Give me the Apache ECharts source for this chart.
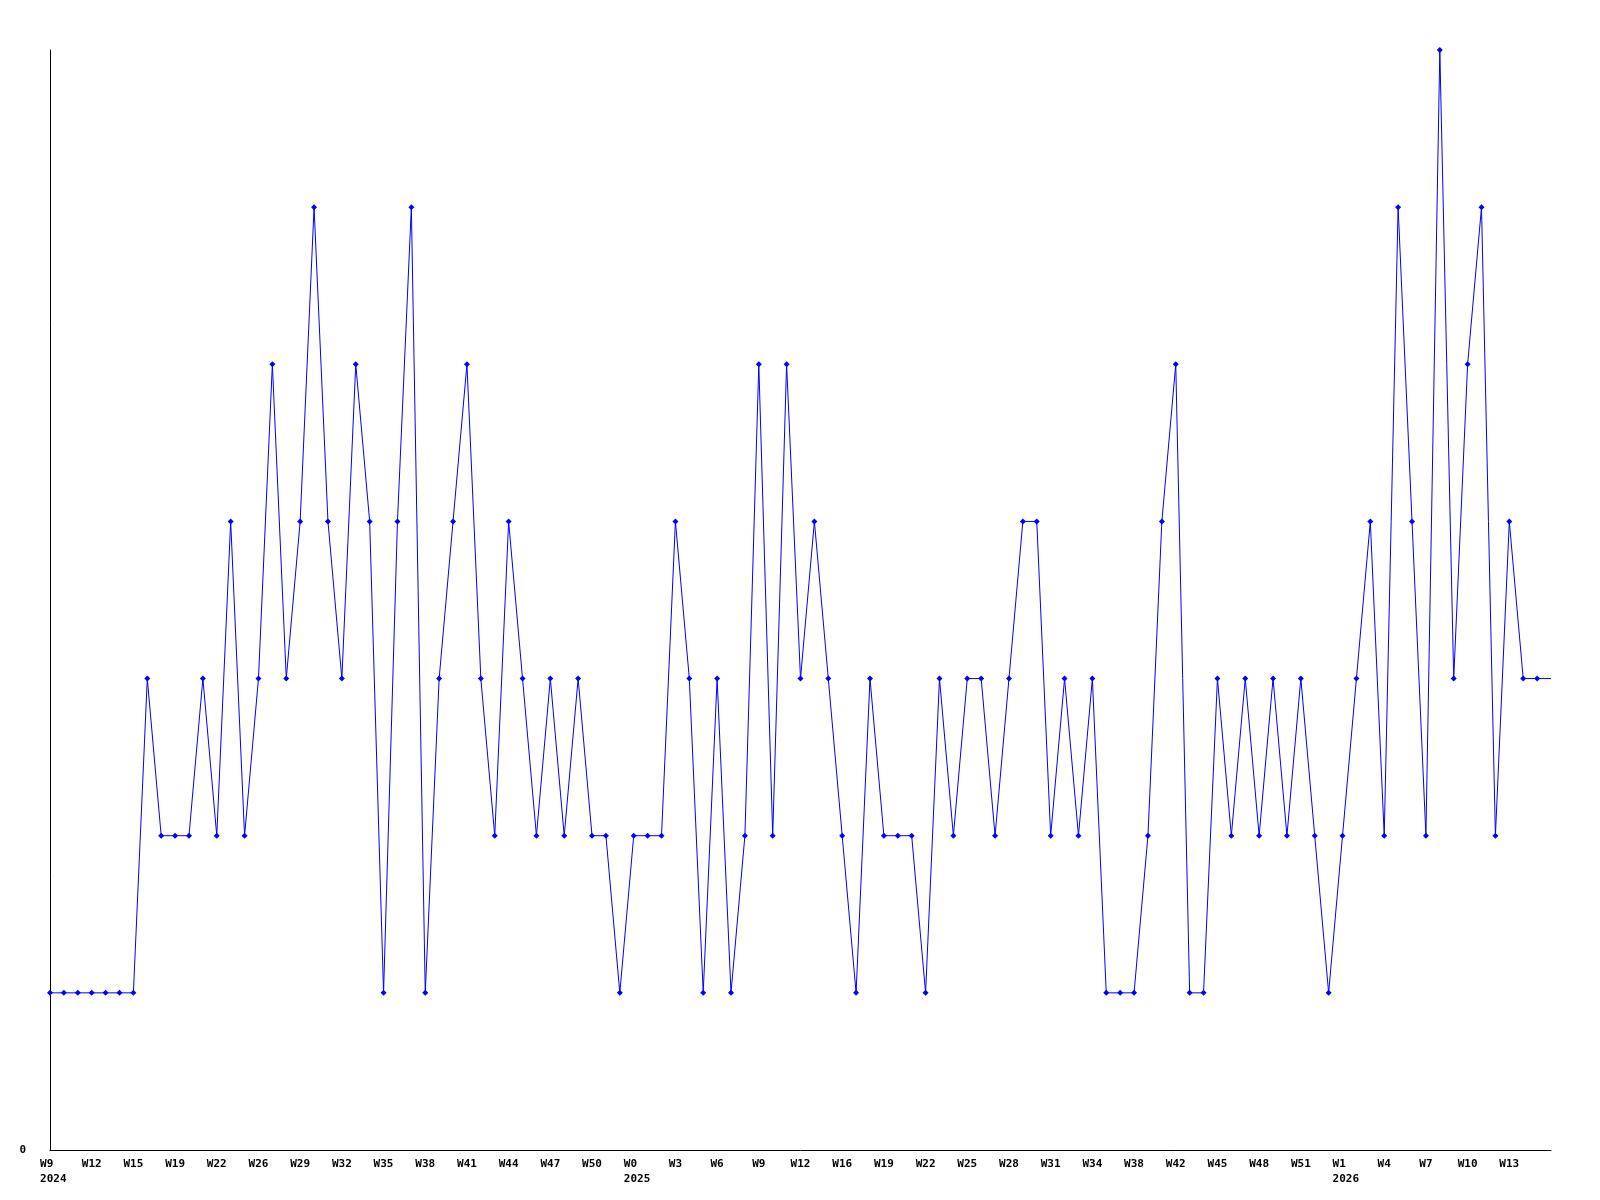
<!DOCTYPE html>
<html>
<head>
<meta charset="utf-8">
<script src="https://cdn.jsdelivr.net/npm/echarts@6/dist/echarts.min.js"></script>
<style>html,body{margin:0;padding:0;background:#fff}#c{width:1600px;height:1200px}</style>
</head>
<body>
<div id="c"></div>
<script>
const tickLabels = ['W9\n2024','W12','W15','W19','W22','W26','W29','W32','W35','W38','W41','W44','W47','W50',
  'W0\n2025','W3','W6','W9','W12','W16','W19','W22','W25','W28','W31','W34','W38','W42','W45','W48','W51',
  'W1\n2026','W4','W7','W10','W13'];
const values = [1,1,1,1,1,1,1,3,2,2,2,3,2,4,2,3,5,3,4,6,4,3,5,4,1,4,6,1,3,4,5,3,2,4,3,2,3,2,3,2,2,1,2,2,2,4,3,1,3,1,
  2,5,2,5,3,4,3,2,1,3,2,2,2,1,3,2,3,3,2,3,4,4,2,3,2,3,1,1,1,2,4,5,1,1,3,2,3,2,3,2,3,2,1,2,3,4,2,6,4,2,
  7,3,5,6,2,4,3,3,3];
const yTicks = ['0'];

const categories = values.map((v, i) => (i % 3 === 0 && tickLabels[i / 3]) ? tickLabels[i / 3] : ('c' + i));
const data = values.map((v, i) => i === values.length - 1 ? {value: v, symbol: 'none'} : v);

const chart = echarts.init(document.getElementById('c'), null, {renderer: 'canvas'});
const font = 'DejaVu Sans Mono';
chart.setOption({
  animation: false,
  backgroundColor: '#ffffff',
  grid: {left: 50, right: 49, top: 50, bottom: 50, containLabel: false},
  xAxis: {
    type: 'category',
    data: categories,
    boundaryGap: false,
    axisLine: {show: true, lineStyle: {color: '#000', width: 1}},
    axisTick: {show: false},
    splitLine: {show: false},
    axisLabel: {
      interval: 2,
      margin: 7,
      color: '#000',
      fontFamily: font,
      fontWeight: 'bold',
      fontSize: 11,
      lineHeight: 15,
      formatter: function (s) {
        if (s.charAt(0) === 'c') return '';
        const parts = s.split('\n');
        if (parts.length === 2) {
          return '\u00a0' + parts[0] + '\u00a0'.repeat(parts[1].length - parts[0].length) + '\n\u00a0' + parts[1];
        }
        return s;
      }
    }
  },
  yAxis: {
    type: 'value',
    min: 0,
    max: 7,
    interval: 7,
    axisLine: {show: true, lineStyle: {color: '#000', width: 1}},
    axisTick: {show: false},
    splitLine: {show: false},
    axisLabel: {
      margin: 24,
      color: '#000',
      fontFamily: font,
      fontWeight: 'bold',
      fontSize: 11,
      formatter: function (v) { return v === 0 ? yTicks[0] : ''; }
    }
  },
  series: [{
    type: 'line',
    data: data,
    symbol: 'diamond',
    symbolSize: 6,
    showAllSymbol: true,
    lineStyle: {color: '#0000ff', width: 1},
    itemStyle: {color: '#0000ff'},
    clip: false
  }]
});
</script>
</body>
</html>
